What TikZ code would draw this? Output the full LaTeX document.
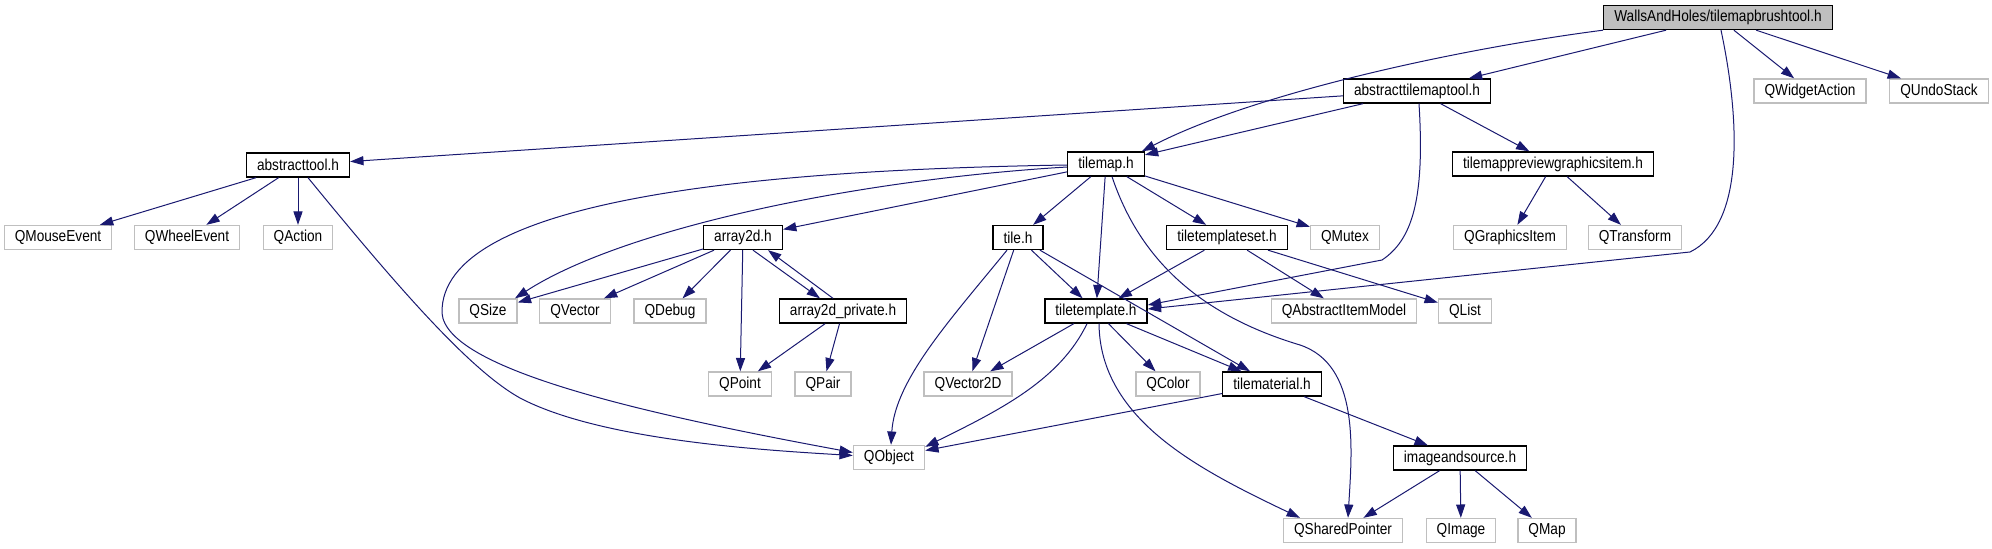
\documentclass[tikz,border=0pt]{standalone}
\usepackage{fontspec}
\setmainfont[FakeStretch=0.86]{Liberation Sans}
\usepackage{xcolor}
\usetikzlibrary{arrows.meta, calc}
\definecolor{edgeblue}{HTML}{191970}
\definecolor{extgrey}{HTML}{BFBFBF}

\begin{document}
\begin{tikzpicture}[x=0.75pt, y=-0.75pt,
    file/.style={rectangle, draw=black, fill=white, line width=1pt, minimum height=18pt, inner xsep=7.9pt, inner ysep=0pt, font=\fontsize{11.9}{13}\selectfont},
    rootfile/.style={file, fill=extgrey},
    sysfile/.style={file, draw=extgrey},
    arrow/.style={-{Triangle[length=10pt, width=6.8pt]}, draw=edgeblue, line width=0.75pt}]

    \useasboundingbox (0,0) rectangle (1992,549);

    % row 1 and 2
    \node (wah)  [rootfile] at (1718,17.5) {WallsAndHoles/tilemapbrushtool.h};
    \node (att)  [file]    at (1417,91)   {abstracttilemaptool.h};
    \node (qwa)  [sysfile] at (1810,91)   {QWidgetAction};
    \node (qus)  [sysfile] at (1939,91)   {QUndoStack};

    % row 3
    \node (at)   [file]    at (298,165)   {abstracttool.h};
    \node (tm)   [file]    at (1106,164)  {tilemap.h};
    \node (tpgi) [file]    at (1553,164)  {tilemappreviewgraphicsitem.h};

    % row 4
    \node (qme)  [sysfile] at (58,237.5)   {QMouseEvent};
    \node (qwe)  [sysfile] at (187,237.5)  {QWheelEvent};
    \node (qac)  [sysfile] at (298,237.5)  {QAction};
    \node (a2)   [file]    at (743,237.5)  {array2d.h};
    \node (tile) [file]    at (1018,237.5) {tile.h};
    \node (tts)  [file]    at (1227,237.5) {tiletemplateset.h};
    \node (qmu)  [sysfile] at (1345,237.5) {QMutex};
    \node (qgi)  [sysfile] at (1510,237.5) {QGraphicsItem};
    \node (qtr)  [sysfile] at (1635,237.5) {QTransform};

    % row 5
    \node (qsz)  [sysfile] at (488,311)  {QSize};
    \node (qvec) [sysfile] at (575,311)  {QVector};
    \node (qdb)  [sysfile] at (670,311)  {QDebug};
    \node (a2p)  [file]    at (843,311)  {array2d\_private.h};
    \node (tt)   [file]    at (1096,311) {tiletemplate.h};
    \node (qaim) [sysfile] at (1344,311) {QAbstractItemModel};
    \node (qli)  [sysfile] at (1465,311) {QList};

    % row 6
    \node (qpt)  [sysfile] at (740,384)  {QPoint};
    \node (qpa)  [sysfile] at (823,384)  {QPair};
    \node (qv2)  [sysfile] at (968,384)  {QVector2D};
    \node (qco)  [sysfile] at (1168,384) {QColor};
    \node (tmat) [file]    at (1272,384) {tilematerial.h};

    % row 7 and 8
    \node (qob)  [sysfile] at (889,457.5)  {QObject};
    \node (ias)  [file]    at (1460,458)   {imageandsource.h};
    \node (qsp)  [sysfile] at (1343,530.5) {QSharedPointer};
    \node (qim)  [sysfile] at (1461,530.5) {QImage};
    \node (qmap) [sysfile] at (1547,530.5) {QMap};

    % tilemapbrushtool.h
    \draw [arrow] (wah.south west) .. controls (1450,50) and (1250,95) .. ($(tm.north east)+(-3,0)$);
    \draw [arrow] (wah) -- (att);
    \draw [arrow] ($(wah.south)+(3,0)$) .. controls (1740,120) and (1745,225) .. (1690,252) -- ($(tt.east)+(0,-2)$);
    \draw [arrow] (wah) -- (qwa);
    \draw [arrow] (wah) -- (qus);

    % abstracttilemaptool.h
    \draw [arrow] (att) -- (at);
    \draw [arrow] (att) -- (tm);
    \draw [arrow] ($(att.south)+(2,0)$) .. controls (1425,200) and (1412,240) .. (1382,260) -- ($(tt.east)+(0,-6)$);
    \draw [arrow] (att) -- (tpgi);
    \draw [arrow] (tpgi) -- (qgi);
    \draw [arrow] (tpgi) -- (qtr);

    % abstracttool.h
    \draw [arrow] (at) -- (qme);
    \draw [arrow] (at) -- (qwe);
    \draw [arrow] (at) -- (qac);
    \draw [arrow] ($(at.south)+(10,0)$) .. controls (400,290) and (470,370) .. (520,398) .. controls (600,440) and (760,450) .. ($(qob.west)+(0,-2)$);

    % tilemap.h
    \draw [arrow] ($(tm.west)+(0,3)$) .. controls (850,180) and (620,230) .. ($(qsz.north)+(27,0)$);
    \draw [arrow] ($(tm.west)+(0,1)$) .. controls (750,170) and (440,200) .. (442,313) .. controls (446,370) and (650,415) .. ($(qob.west)+(0,-5)$);
    \draw [arrow] (tm) -- (a2);
    \draw [arrow] (tm) -- (tile);
    \draw [arrow] (tm) -- (tt);
    \draw [arrow] (tm) -- (tts);
    \draw [arrow] (tm) -- (qmu);
    \draw [arrow] ($(tm.south)+(6,0)$) .. controls (1140,260) and (1200,315) .. (1300,345) .. controls (1360,365) and (1352,450) .. ($(qsp.north)+(5,0)$);

    % array2d.h
    \draw [arrow] (a2) -- (qsz);
    \draw [arrow] (a2) -- (qvec);
    \draw [arrow] (a2) -- (qdb);
    \draw [arrow] (a2) -- (qpt);
    \draw [arrow] ($(a2.south)+(10,0)$) -- ($(a2p.north)+(-23,0)$);
    \draw [arrow] ($(a2p.north)+(-10,0)$) -- ($(a2.south)+(25,0)$);
    \draw [arrow] (a2p) -- (qpt);
    \draw [arrow] (a2p) -- (qpa);

    % tile.h
    \draw [arrow] ($(tile.south)+(-11,0)$) .. controls (950,320) and (895,380) .. ($(qob.north)+(2,0)$);
    \draw [arrow] (tile) -- (qv2);
    \draw [arrow] (tile) -- (tt);
    \draw [arrow] (tile) -- (tmat);

    % tiletemplateset.h
    \draw [arrow] (tts) -- (tt);
    \draw [arrow] (tts) -- (qaim);
    \draw [arrow] (tts) -- (qli);

    % tiletemplate.h
    \draw [arrow] (tt) -- (qv2);
    \draw [arrow] ($(tt.south)+(-9,0)$) .. controls (1060,380) and (1000,410) .. ($(qob.north east)+(0,2)$);
    \draw [arrow] (tt) -- (qco);
    \draw [arrow] (tt) -- (tmat);
    \draw [arrow] ($(tt.south)+(3,0)$) .. controls (1100,420) and (1200,470) .. ($(qsp.north)+(-43,0)$);

    % tilematerial.h and imageandsource.h
    \draw [arrow] (tmat) -- (qob);
    \draw [arrow] (tmat) -- (ias);
    \draw [arrow] (ias) -- (qsp);
    \draw [arrow] (ias) -- (qim);
    \draw [arrow] (ias) -- (qmap);

\end{tikzpicture}
\end{document}
